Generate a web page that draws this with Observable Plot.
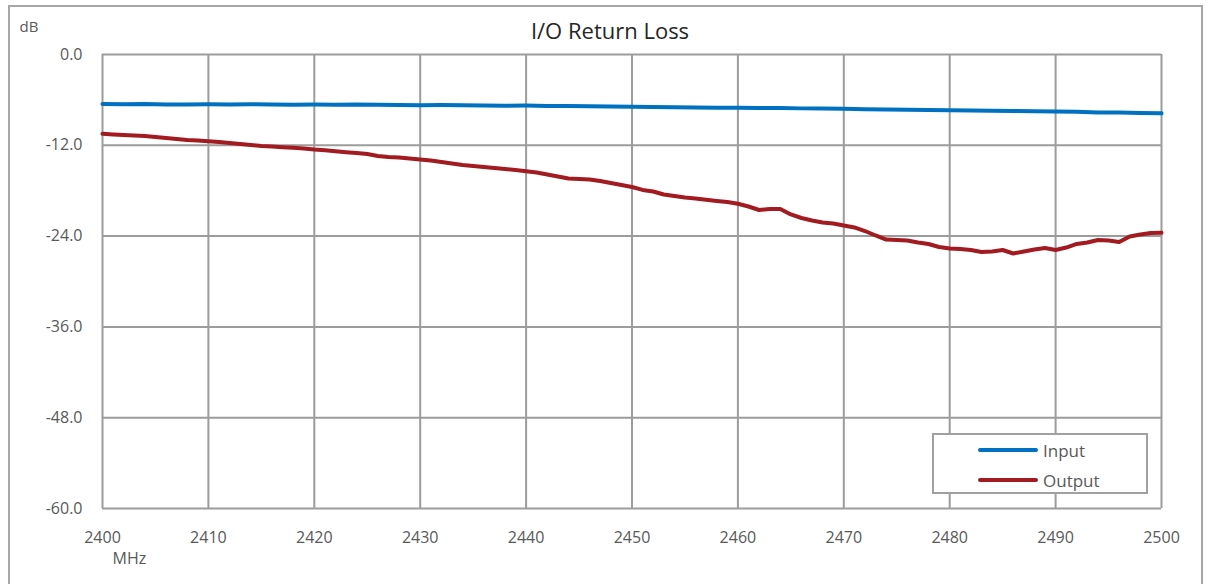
<!DOCTYPE html>
<html>
<head>
<meta charset="utf-8">
<script src="https://cdn.jsdelivr.net/npm/d3@7"></script>
<script src="https://cdn.jsdelivr.net/npm/@observablehq/plot@0.6"></script>
<style>
  html, body { margin: 0; padding: 0; background: #fff; overflow: hidden; }
  #wrap { position: relative; width: 1211px; height: 584px; font-family: "Open Sans", "Liberation Sans", sans-serif; }
  #border { position: absolute; left: 8px; top: 5px; width: 1195px; height: 640px; border: 2px solid #a6a6a6; box-sizing: border-box; }
  #legend { position: absolute; left: 932px; top: 433px; width: 216px; height: 61px; border: 2px solid #a0a0a0; background: #fff; box-sizing: border-box; }
  .lg { position: absolute; left: 44px; height: 20px; display: flex; align-items: center; font-size: 17px; color: #595959; }
  .lg span.sw { display: inline-block; width: 60px; height: 4px; border-radius: 2px; margin-right: 5px; }
</style>
</head>
<body>
<div id="wrap">
  <div id="border"></div>
  <div id="chart"></div>
  <div id="legend">
    <div class="lg" style="top:5px"><span class="sw" style="background:#0070c0"></span>Input</div>
    <div class="lg" style="top:35px"><span class="sw" style="background:#a11b20"></span>Output</div>
  </div>
</div>
<script>
// Frequency axis (MHz)
const xTicks = [2400, 2410, 2420, 2430, 2440, 2450, 2460, 2470, 2480, 2490, 2500];
const yTicks = [0, -12, -24, -36, -48, -60];

// Input return loss (dB), every 2 MHz from 2400 to 2500
const inputFreq = d3.range(2400, 2501, 2);
const inputDb = [
  -6.55, -6.58, -6.55, -6.60, -6.62, -6.58, -6.60, -6.58, -6.60, -6.63,
  -6.62, -6.63, -6.60, -6.65, -6.68, -6.70, -6.68, -6.72, -6.74, -6.76,
  -6.75, -6.80, -6.82, -6.85, -6.88, -6.92, -6.95, -6.98, -7.00, -7.03,
  -7.05, -7.06, -7.08, -7.12, -7.15, -7.18, -7.22, -7.26, -7.30, -7.35,
  -7.38, -7.40, -7.45, -7.47, -7.50, -7.52, -7.58, -7.65, -7.68, -7.72,
  -7.78
];

// Output return loss (dB), every 1 MHz from 2400 to 2500
const outputFreq = d3.range(2400, 2501, 1);
const outputDb = [
  -10.48, -10.57, -10.64, -10.70, -10.77, -10.90, -11.03, -11.17, -11.30, -11.37,
  -11.46, -11.56, -11.70, -11.83, -11.96, -12.09, -12.16, -12.25, -12.32, -12.42,
  -12.56, -12.66, -12.78, -12.91, -13.02, -13.15, -13.41, -13.55, -13.61, -13.74,
  -13.88, -14.01, -14.21, -14.41, -14.60, -14.74, -14.87, -15.00, -15.13, -15.26,
  -15.42, -15.59, -15.86, -16.12, -16.39, -16.45, -16.52, -16.72, -16.98, -17.25,
  -17.51, -17.90, -18.10, -18.50, -18.70, -18.90, -19.03, -19.20, -19.36, -19.49,
  -19.73, -20.09, -20.55, -20.42, -20.42, -21.14, -21.61, -21.94, -22.20, -22.33,
  -22.60, -22.86, -23.33, -23.92, -24.45, -24.51, -24.58, -24.84, -25.04, -25.44,
  -25.64, -25.70, -25.84, -26.10, -26.03, -25.84, -26.30, -26.03, -25.77, -25.57,
  -25.84, -25.51, -25.04, -24.84, -24.51, -24.58, -24.78, -24.05, -23.79, -23.59,
  -23.56
];

const inputData = inputFreq.map((f, i) => ({f, v: inputDb[i]}));
const outputData = outputFreq.map((f, i) => ({f, v: outputDb[i]}));

const grid = "#9c9c9c";
const txt = "#595959";

const chart = Plot.plot({
  width: 1211,
  height: 584,
  marginLeft: 102,
  marginRight: 50,
  marginTop: 54,
  marginBottom: 76,
  style: { fontFamily: "'Open Sans', 'Liberation Sans', sans-serif", fontSize: "16px", color: txt, background: "transparent" },
  x: { domain: [2400, 2500], ticks: xTicks },
  y: { domain: [-60, 0], ticks: yTicks },
  marks: [
    Plot.gridX(xTicks, { stroke: grid, strokeOpacity: 1, strokeWidth: 2 }),
    Plot.gridY(yTicks, { stroke: grid, strokeOpacity: 1, strokeWidth: 2 }),
    Plot.axisX({ ticks: xTicks, tickSize: 0, tickPadding: 23, tickFormat: d => String(d), label: null, fill: txt, fontSize: 16 }),
    Plot.axisY({ ticks: yTicks, tickSize: 0, tickPadding: 20, tickFormat: d => d.toFixed(1), label: null, fill: txt, fontSize: 16 }),
    Plot.line(inputData, { x: "f", y: "v", stroke: "#0070c0", strokeWidth: 4, curve: "linear" }),
    Plot.line(outputData, { x: "f", y: "v", stroke: "#a11b20", strokeWidth: 4, curve: "linear" }),
    Plot.text(["I/O Return Loss"], { frameAnchor: "top", dx: -22, dy: -31, fontSize: 22, fill: "#262626" }),
    Plot.text(["dB"], { frameAnchor: "top-left", dx: -83, dy: -33, fontSize: 15, fill: txt, textAnchor: "start" }),
    Plot.text(["MHz"], { frameAnchor: "bottom-left", dx: 10, dy: 55, fontSize: 16, fill: txt })
  ]
});
document.getElementById("chart").appendChild(chart);
</script>
</body>
</html>
